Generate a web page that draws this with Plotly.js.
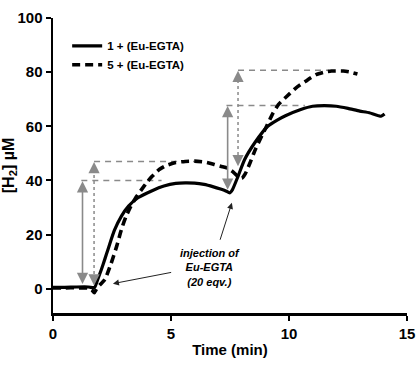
<!DOCTYPE html>
<html>
<head>
<meta charset="utf-8">
<script src="https://cdn.plot.ly/plotly-3.0.1.min.js"></script>
<style>
html,body{margin:0;padding:0;background:#fff;}
#chart{width:418px;height:375px;}
</style>
</head>
<body>
<div id="chart"></div>
<script>
// Series 1 + (Eu-EGTA) : solid
const time1 = [0, 0.5, 1.0, 1.5, 1.7, 1.77, 1.9, 2.05, 2.2, 2.33, 2.6, 2.9, 3.2, 3.6, 4.2, 4.7, 5.2, 5.6, 6.0, 6.4, 6.8, 7.1, 7.3, 7.49, 7.6, 7.84, 8.12, 8.55, 9.1, 9.5, 9.85, 10.5, 11.0, 11.5, 12.0, 12.5, 13.0, 13.4, 13.9, 14.05];
const h2_1  = [0.5, 0.5, 0.6, 0.6, 0.4, 0.5, 3.5, 7.1, 11, 14.5, 21.5, 26.8, 30.5, 33.6, 36.2, 37.9, 38.9, 39.1, 39, 38.5, 37.6, 36.8, 36.2, 35.4, 36.5, 41.5, 47.7, 53.9, 60, 62.3, 63.9, 66.2, 67.4, 67.6, 67.4, 66.6, 65.6, 65.0, 63.7, 64.5];

// Series 5 + (Eu-EGTA) : dashed
const time5 = [0, 0.5, 1.0, 1.5, 1.65, 1.75, 1.85, 2.0, 2.2, 2.45, 2.7, 2.9, 3.1, 3.3, 3.5, 3.75, 4.0, 4.2, 4.5, 4.8, 5.2, 5.6, 6.0, 6.4, 6.8, 7.1, 7.4, 7.65, 7.85, 8.0, 8.15, 8.35, 8.6, 8.85, 9.05, 9.3, 9.55, 9.9, 10.3, 10.7, 11.15, 11.5, 11.8, 12.3, 12.6, 12.9];
const h2_5  = [0.3, 0.3, 0.3, 0.2, -0.5, -1.5, 0, 1.5, 3.4, 9, 15.7, 21.9, 26.8, 30.5, 33.5, 36.6, 39.5, 41.5, 44, 45.5, 46.6, 47, 47.1, 46.8, 46, 45.2, 44.5, 43, 41.3, 40.8, 42.5, 46.5, 52, 56.5, 60, 64.5, 68, 71, 74.2, 76.6, 79.1, 80, 80.4, 80.4, 80, 79.3];

const seriesNames = ['1 + (Eu-EGTA)', '5 + (Eu-EGTA)'];

// Guide levels: [from time, to time, level]
const guideLevels = [[1.2, 4.6, 40], [1.74, 6.3, 47], [7.35, 10.67, 67.7], [7.84, 11.7, 80.7]];
// Double arrows (solid gray): [time, bottom, top]
const solidArrows = [[1.25, 1.2, 39.7], [7.4, 36, 67.5]];
// Dotted arrows: [time, bottom, top]
const dottedArrows = [[1.74, 1.2, 46.8], [7.84, 45.2, 80.5]];

const xTicks = [0, 5, 10, 15];
const yTicks = [0, 20, 40, 60, 80, 100];

const gray = '#8a8a8a';
const F = 'Liberation Sans, Arial, sans-serif';

const traces = [
  {x: time1, y: h2_1, name: seriesNames[0], mode: 'lines',
   line: {color: '#000', width: 3.2, shape: 'spline', smoothing: 0.5}},
  {x: time5, y: h2_5, name: seriesNames[1], mode: 'lines',
   line: {color: '#000', width: 3.6, dash: '8px,5px', shape: 'spline', smoothing: 0.5}}
];

const shapes = [];
guideLevels.forEach(g => shapes.push({type: 'line', xref: 'x', yref: 'y', x0: g[0], x1: g[1], y0: g[2], y1: g[2],
  line: {color: gray, width: 1.5, dash: '6px,5px'}, layer: 'below'}));
dottedArrows.forEach(a => shapes.push({type: 'line', xref: 'x', yref: 'y', x0: a[0], x1: a[0], y0: a[1] + 2, y1: a[2] - 2,
  line: {color: gray, width: 1.5, dash: 'dot'}, layer: 'below'}));

const annotations = [];
solidArrows.forEach(a => annotations.push({x: a[0], y: a[2], ax: a[0], ay: a[1], xref: 'x', yref: 'y', axref: 'x', ayref: 'y',
  text: '', showarrow: true, arrowside: 'end+start', arrowhead: 2, startarrowhead: 2, arrowsize: 1.4, startarrowsize: 1.4, arrowwidth: 1.6, arrowcolor: gray}));
dottedArrows.forEach(a => {
  annotations.push({x: a[0], y: a[2], ax: 0, ay: 10, xref: 'x', yref: 'y', text: '', showarrow: true, arrowhead: 2, arrowsize: 1.4, arrowwidth: 1.6, arrowcolor: gray});
  annotations.push({x: a[0], y: a[1], ax: 0, ay: -10, xref: 'x', yref: 'y', text: '', showarrow: true, arrowhead: 2, arrowsize: 1.4, arrowwidth: 1.6, arrowcolor: gray});
});
// injection pointers
annotations.push({x: 2.54, y: 1.85, ax: 5.07, ay: 6.1, xref: 'x', yref: 'y', axref: 'x', ayref: 'y', text: '', showarrow: true, arrowhead: 2, arrowsize: 1.2, arrowwidth: 1, arrowcolor: '#222'});
annotations.push({x: 7.58, y: 31.7, ax: 7.06, ay: 17.5, xref: 'x', yref: 'y', axref: 'x', ayref: 'y', text: '', showarrow: true, arrowhead: 2, arrowsize: 1.2, arrowwidth: 1, arrowcolor: '#222'});
annotations.push({x: 6.64, y: 7.9, xref: 'x', yref: 'y', showarrow: false, align: 'center',
  text: '<b><i>injection of<br>Eu-EGTA<br>(20 eqv.)</i></b>', font: {family: F, size: 11, color: '#000'}});

const layout = {
  width: 418, height: 375,
  margin: {l: 53, r: 11, t: 18, b: 62},
  paper_bgcolor: '#fff', plot_bgcolor: '#fff',
  showlegend: true,
  legend: {x: 0.04, y: 0.955, xanchor: 'left', yanchor: 'top', bgcolor: 'rgba(0,0,0,0)',
    font: {family: F, size: 11.5, color: '#000', weight: 'bold'}},
  xaxis: {range: [0, 15], tickvals: xTicks, ticktext: xTicks.map(String), showgrid: false, zeroline: false,
    showline: true, linecolor: '#000', linewidth: 2.5, ticks: 'outside', ticklen: 5, tickwidth: 2, tickcolor: '#000',
    tickfont: {family: F, size: 15, color: '#000', weight: 'bold'},
    title: {text: '<b>Time (min)</b>', font: {family: F, size: 15, color: '#000'}, standoff: 4}},
  yaxis: {range: [-9, 100], tickvals: yTicks, ticktext: yTicks.map(String), showgrid: false, zeroline: false,
    showline: true, linecolor: '#000', linewidth: 2.5, ticks: 'outside', ticklen: 5, tickwidth: 2, tickcolor: '#000',
    tickfont: {family: F, size: 15, color: '#000', weight: 'bold'},
    title: {text: '<b>[H<sub>2</sub>] µM</b>', font: {family: F, size: 16, color: '#000'}, standoff: 4}},
  shapes: shapes,
  annotations: annotations
};

Plotly.newPlot('chart', traces, layout, {displayModeBar: false, staticPlot: true});
</script>
</body>
</html>
